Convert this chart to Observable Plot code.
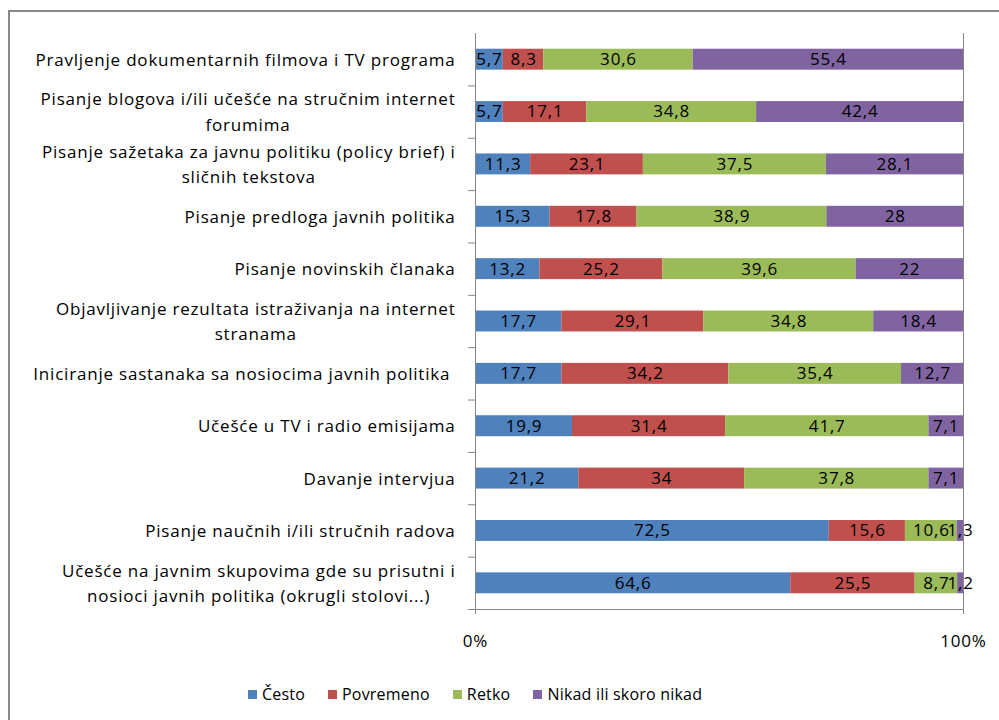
<!DOCTYPE html>
<html>
<head>
<meta charset="utf-8">
<script src="https://cdn.jsdelivr.net/npm/d3@7"></script>
<script src="https://cdn.jsdelivr.net/npm/@observablehq/plot@0.6"></script>
<style>
  body { margin: 0; background: #fff; font-family: "Open Sans", sans-serif; }
  #wrap { position: relative; width: 999px; height: 720px; overflow: hidden; }
  #border { position: absolute; left: 8px; top: 10px; width: 1000px; height: 720px;
            border-top: 2px solid #8a8a8a; border-left: 2px solid #8a8a8a; }
  #chart { position: absolute; left: 0; top: 0; }
  #legend { position: absolute; left: 248px; top: 683px; display: flex; align-items: center;
            font-family: "Open Sans", sans-serif; font-size: 16px; letter-spacing: 0.2px; color: #000; }
  .item { display: flex; align-items: center; margin-right: 23px; }
  .sw { width: 9px; height: 9px; margin-right: 5px; }
</style>
</head>
<body>
<div id="wrap">
  <div id="border"></div>
  <div id="chart"></div>
  <div id="legend"></div>
</div>
<script>
const categories = [
  "Pravljenje dokumentarnih filmova i TV programa",
  "Pisanje blogova i/ili učešće na stručnim internet\nforumima",
  "Pisanje sažetaka za javnu politiku (policy brief) i\nsličnih tekstova",
  "Pisanje predloga javnih politika",
  "Pisanje novinskih članaka",
  "Objavljivanje rezultata istraživanja na internet\nstranama",
  "Iniciranje sastanaka sa nosiocima javnih politika ",
  "Učešće u TV i radio emisijama",
  "Davanje intervjua",
  "Pisanje naučnih i/ili stručnih radova",
  "Učešće na javnim skupovima gde su prisutni i\nnosioci javnih politika (okrugli stolovi...)"
];
const series = ["Često", "Povremeno", "Retko", "Nikad ili skoro nikad"];
const cesto     = [5.7, 5.7, 11.3, 15.3, 13.2, 17.7, 17.7, 19.9, 21.2, 72.5, 64.6];
const povremeno = [8.3, 17.1, 23.1, 17.8, 25.2, 29.1, 34.2, 31.4, 34, 15.6, 25.5];
const retko     = [30.6, 34.8, 37.5, 38.9, 39.6, 34.8, 35.4, 41.7, 37.8, 10.6, 8.7];
const nikad     = [55.4, 42.4, 28.1, 28, 22, 18.4, 12.7, 7.1, 7.1, 1.3, 1.2];
const colors = ["#4F81BD", "#C0504D", "#9BBB59", "#8064A2"];
const xTicks = [0, 1];

const seriesValues = [cesto, povremeno, retko, nikad];
const rows = categories.flatMap((c, i) =>
  series.map((s, j) => ({category: c, series: s, value: seriesValues[j][i]})));
const fmt = v => String(v).replace(".", ",");

const W = 999, H = 660, mt = 33, mb = 51, ml = 475, mr = 36;
const step = (H - mt - mb) / categories.length;
const grey = "#868686";

const chart = Plot.plot({
  width: W, height: H,
  marginTop: mt, marginBottom: mb, marginLeft: ml, marginRight: mr,
  style: {fontFamily: "'Open Sans', sans-serif", fontSize: "17px", color: "#000",
          letterSpacing: "0.8px", background: "transparent", overflow: "visible"},
  x: {domain: [0, 1], label: null},
  y: {domain: categories, paddingInner: 0.6, paddingOuter: 0.3, round: false, label: null},
  color: {domain: series, range: colors},
  marks: [
    Plot.barX(rows, Plot.stackX({x: "value", y: "category", fill: "series", z: "series",
                                 offset: "normalize", order: series})),
    Plot.text(rows, Plot.stackX({x: "value", y: "category", z: "series", text: d => fmt(d.value),
                                 offset: "normalize", order: series,
                                 fill: "#000", fontSize: 17})),
    Plot.ruleX(xTicks, {stroke: grey}),
    Plot.frame({anchor: "bottom", stroke: grey}),
    Plot.ruleY(categories, {y: d => d, dy: step / 2, x1: 0, x2: 0, insetLeft: -7, stroke: grey}),
    Plot.axisX(xTicks, {tickFormat: ".0%", tickSize: 5, tickPadding: 20,
                        stroke: grey, fill: "#000", fontSize: 17}),
    Plot.axisY({tickSize: 0, tickPadding: 20, lineHeight: 1.5, dy: -2, fill: "#000", fontSize: 17})
  ]
});
document.getElementById("chart").appendChild(chart);

// center multi-line category labels relative to each other (right-aligned block)
d3.select(chart).selectAll('g[aria-label="y-axis tick label"] text').each(function () {
  const tspans = this.querySelectorAll("tspan");
  if (tspans.length < 2) return;
  let w = 0;
  tspans.forEach(t => { w = Math.max(w, t.getComputedTextLength()); });
  this.setAttribute("text-anchor", "middle");
  tspans.forEach(t => t.setAttribute("x", -w / 2));
});

const legend = d3.select("#legend");
series.forEach((s, i) => {
  const it = legend.append("div").attr("class", "item");
  it.append("div").attr("class", "sw").style("background", colors[i]);
  it.append("span").text(s);
});
</script>
</body>
</html>
